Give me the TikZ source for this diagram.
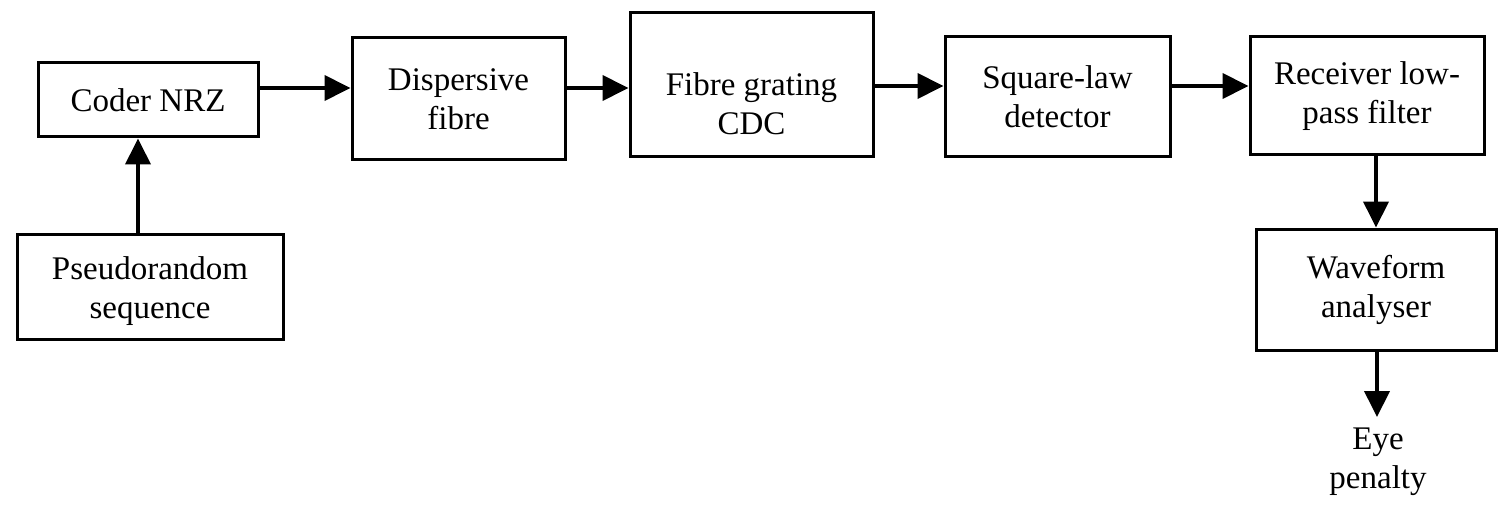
\documentclass[tikz,border=0pt]{standalone}
\usepackage{fontspec}
\setmainfont{Liberation Serif}
\usetikzlibrary{arrows.meta}
\begin{document}
\begin{tikzpicture}[x=1pt,y=-1pt,
  box/.style={draw,line width=3pt,align=center,inner sep=0pt,
    font=\fontsize{33}{39}\selectfont},
  arr/.style={line width=4pt,-{Triangle[length=26pt,width=25pt]}},
  lbl/.style={align=center,font=\fontsize{33}{39}\selectfont}]
\useasboundingbox (0,0) rectangle (1510,516);
\node[box,minimum width=220pt,minimum height=74pt] (coder) at (148,100) {Coder NRZ};
\node[box,minimum width=266pt,minimum height=105pt,
  label={[lbl,yshift=-4pt]center:Pseudorandom\\sequence}] (pseudo) at (150,287) {};
\node[box,minimum width=213pt,minimum height=122pt] (disp) at (458.5,99) {Dispersive\\fibre};
\node[box,minimum width=243pt,minimum height=144pt,
  label={[lbl,yshift=-19pt]center:Fibre grating\\CDC}] (fibre) at (751.5,85) {};
\node[box,minimum width=225pt,minimum height=120pt] (square) at (1057.5,97) {Square-law\\detector};
\node[box,minimum width=234pt,minimum height=118pt] (recv) at (1367,96) {Receiver low-\\pass filter};
\node[box,minimum width=240pt,minimum height=121pt] (wave) at (1376,289.5) {Waveform\\analyser};
\node[lbl] (eye) at (1378,462) {Eye\\penalty};
\coordinate (ya) at (0,88);
\coordinate (yb) at (0,86);
\coordinate (xa) at (138,0);
\coordinate (xb) at (1376,0);
\coordinate (eyetop) at (1377,417);
\draw[arr] (coder.east |- ya) -- (disp.west |- ya);
\draw[arr] (disp.east |- ya) -- (fibre.west |- ya);
\draw[arr] (fibre.east |- yb) -- (square.west |- yb);
\draw[arr] (square.east |- yb) -- (recv.west |- yb);
\draw[arr] (pseudo.north -| xa) -- (coder.south -| xa);
\draw[arr] (recv.south -| xb) -- (wave.north -| xb);
\draw[arr] (wave.south -| eyetop) -- (eyetop);
\end{tikzpicture}
\end{document}
